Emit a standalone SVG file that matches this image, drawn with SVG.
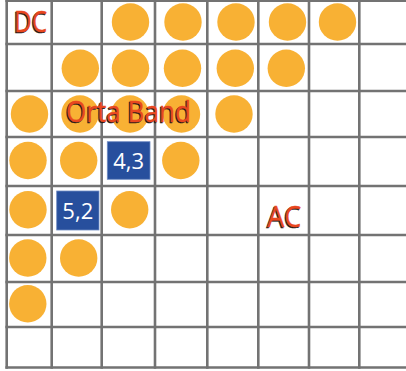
<svg xmlns="http://www.w3.org/2000/svg" width="406" height="371" viewBox="0 0 406 371">
<style>
.g{stroke:#737373;stroke-width:2.6;fill:none}
.c{fill:#f8b134}
.b{fill:#274f9d;stroke:#6f8cc4;stroke-width:0.8}
.bt{font-family:"Open Sans","Liberation Sans",sans-serif;font-size:22px;fill:#ffffff;text-anchor:middle}
.t{font-family:"Open Sans","Liberation Sans",sans-serif;font-size:30px;fill:#e9471f;stroke:#e9471f;stroke-width:0.5}
.s{font-family:"Open Sans","Liberation Sans",sans-serif;font-size:30px;fill:#1a1a1a;stroke:#1a1a1a;stroke-width:0.5}
</style>
<rect width="406" height="371" fill="#ffffff"/>
<g id="grid">
<path class="g" d="M6.7 0V368.8M51.7 0V368.8M101.7 0V368.8M155 0V368.8M207.3 0V368.8M258.3 0V368.8M309 0V368.8M359.3 0V368.8"/>
<path class="g" d="M5.4 0.7H406M5.4 44H406M5.4 91H406M5.4 137H406M5.4 186H406M5.4 235H406M5.4 282H406M5.4 327H406M5.4 367.5H406"/>
</g>
<g id="dots">
<circle class="c" cx="130.5" cy="22" r="18.7"/>
<circle class="c" cx="183" cy="22" r="18.7"/>
<circle class="c" cx="236" cy="22" r="18.7"/>
<circle class="c" cx="287.5" cy="22" r="18.7"/>
<circle class="c" cx="337.5" cy="22" r="18.7"/>
<circle class="c" cx="80.3" cy="68.3" r="18.7"/>
<circle class="c" cx="130.5" cy="68.3" r="18.7"/>
<circle class="c" cx="182.5" cy="68.3" r="18.7"/>
<circle class="c" cx="235.3" cy="68.3" r="18.7"/>
<circle class="c" cx="286.3" cy="68.3" r="18.7"/>
<circle class="c" cx="29.5" cy="114" r="18.7"/>
<circle class="c" cx="80" cy="114" r="18.7"/>
<circle class="c" cx="130" cy="114" r="18.7"/>
<circle class="c" cx="181.5" cy="114" r="18.7"/>
<circle class="c" cx="234" cy="114" r="18.7"/>
<circle class="c" cx="28" cy="160.5" r="18.7"/>
<circle class="c" cx="78.7" cy="160.5" r="18.7"/>
<circle class="c" cx="180.8" cy="160.5" r="18.7"/>
<circle class="c" cx="28" cy="209.7" r="18.7"/>
<circle class="c" cx="129.7" cy="209.7" r="18.7"/>
<circle class="c" cx="27.8" cy="258" r="18.7"/>
<circle class="c" cx="78.7" cy="258" r="18.7"/>
<circle class="c" cx="27.8" cy="303.8" r="18.7"/>
</g>
<g id="node-4-3">
<rect class="b" x="107.3" y="141.7" width="42.7" height="37.6"/>
<text class="bt" x="128.7" y="169.3">4,3</text>
</g>
<g id="node-5-2">
<rect class="b" x="56.7" y="191" width="42.3" height="39"/>
<text class="bt" x="77.8" y="219.3">5,2</text>
</g>
<g id="label-dc">
<text class="s" x="13" y="32.7" textLength="33" lengthAdjust="spacingAndGlyphs">DC</text>
<text class="t" x="14" y="31.7" textLength="33" lengthAdjust="spacingAndGlyphs">DC</text>
</g>
<g id="label-orta">
<text class="s" x="65" y="123" textLength="125" lengthAdjust="spacingAndGlyphs">Orta Band</text>
<text class="t" x="66" y="122" textLength="125" lengthAdjust="spacingAndGlyphs">Orta Band</text>
</g>
<g id="label-ac">
<text class="s" x="266.3" y="227.7" textLength="34" lengthAdjust="spacingAndGlyphs">AC</text>
<text class="t" x="267.3" y="226.7" textLength="34" lengthAdjust="spacingAndGlyphs">AC</text>
</g>
</svg>
